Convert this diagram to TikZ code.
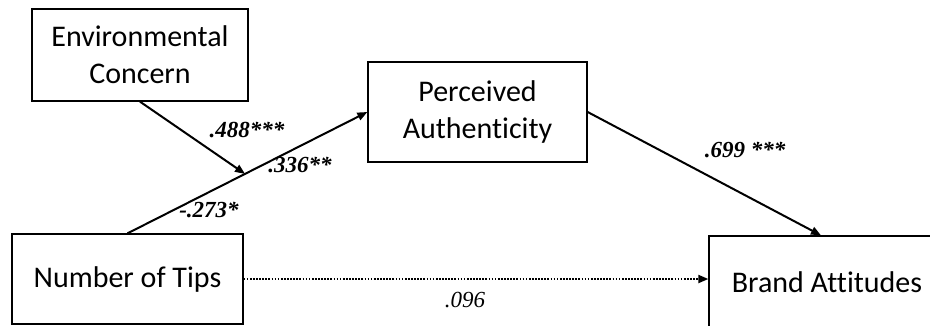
\documentclass[tikz,border=0pt]{standalone}
\usepackage{fontspec}
\setmainfont{Carlito}[Ligatures=NoCommon]
\newfontfamily\coeffont{Liberation Serif}
\usetikzlibrary{positioning, arrows.meta, calc}

\begin{document}
\begin{tikzpicture}[
  x=1pt, y=-1pt,
  font=\fontsize{30}{37}\selectfont,
  varbox/.style={draw, line width=1.3pt, align=center, inner sep=0pt},
  effarr/.style={-{Triangle[length=10pt, width=8pt]}, line width=2pt},
  dotarr/.style={-{Triangle[length=10pt, width=8pt]}, line width=2pt,
                 dash pattern=on 1.7pt off 1.4pt},
  coef/.style={font=\coeffont\fontsize{23}{26}\selectfont\bfseries\itshape},
  >=Stealth
]

\clip (0,0) rectangle (930,325);

% variables
\node[varbox, minimum width=216pt, minimum height=92pt] (EC) at (140,55)
  {Environmental\\Concern};
\node[varbox, minimum width=219pt, minimum height=100pt] (PA) at (477.5,112)
  {Perceived\\Authenticity};
\node[varbox, minimum width=231pt, minimum height=90pt] (NT) at (127.5,279)
  {Number of Tips};
\node[varbox, minimum width=236pt, minimum height=92pt] (BA) at (827,282)
  {Brand Attitudes};

% paths
\coordinate (mod) at ($(NT.north)!0.49!(PA.west)$);
\draw[effarr] (NT.north) -- (PA.west);
\draw[effarr] (EC.south) -- (mod);
\coordinate (BAtop) at ([xshift=-6pt]BA.north);
\draw[effarr] (PA.east) -- (BAtop);
\coordinate (dirend) at (NT.east -| BA.west);
\draw[dotarr] (NT.east) -- (dirend);

% coefficients
\node[coef] (c488) at (247,130) {.488***};
\node[coef] (c336) at (300,165) {.336**};
\node[coef] (c273) at (209,210) {-.273*};
\node[coef] (c699) at (745,150) {.699 ***};
\node[font=\coeffont\fontsize{23}{26}\selectfont\itshape] (c096) at (465,300) {.096};

\end{tikzpicture}
\end{document}
